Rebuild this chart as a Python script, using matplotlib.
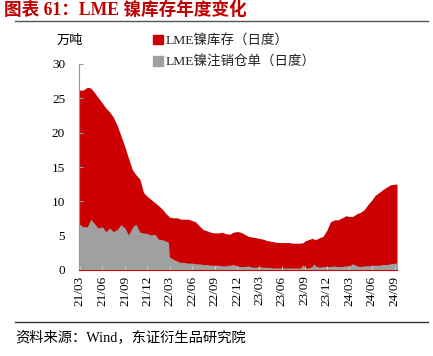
import matplotlib
matplotlib.use("Agg")
import matplotlib.pyplot as plt
import matplotlib.dates as mdates
from matplotlib.patches import Patch
import pandas as pd

plt.rcParams['font.family'] = ['Liberation Serif', 'Noto Sans CJK SC']

# semi-monthly readings (万吨) with a few extra dates for spikes / steps
dates = [
    "2021-02-26", "2021-03-15", "2021-04-01", "2021-04-15", "2021-05-01", "2021-05-15",
    "2021-06-01", "2021-06-15", "2021-07-01", "2021-07-15", "2021-08-01", "2021-08-15",
    "2021-09-01", "2021-09-15", "2021-10-01", "2021-10-15", "2021-11-01", "2021-11-15",
    "2021-12-01", "2021-12-15", "2022-01-01", "2022-01-15", "2022-02-01", "2022-02-15",
    "2022-02-24", "2022-03-01", "2022-03-15", "2022-04-01", "2022-04-15", "2022-05-01",
    "2022-05-15", "2022-06-01", "2022-06-15", "2022-07-01", "2022-07-15", "2022-08-01",
    "2022-08-15", "2022-09-01", "2022-09-15", "2022-10-01", "2022-10-15", "2022-11-01",
    "2022-11-15", "2022-12-01", "2022-12-15", "2023-01-01", "2023-01-15", "2023-02-01",
    "2023-02-15", "2023-03-01", "2023-03-15", "2023-04-01", "2023-04-15", "2023-05-01",
    "2023-05-15", "2023-06-01", "2023-06-15", "2023-07-01", "2023-07-15", "2023-08-01",
    "2023-08-15", "2023-08-28", "2023-09-01", "2023-09-15", "2023-10-01", "2023-10-10",
    "2023-10-15", "2023-11-01", "2023-11-15", "2023-12-01", "2023-12-15", "2024-01-01",
    "2024-01-15", "2024-02-01", "2024-02-15", "2024-03-01", "2024-03-15", "2024-04-01",
    "2024-04-15", "2024-05-01", "2024-05-15", "2024-06-01", "2024-06-15", "2024-07-01",
    "2024-07-15", "2024-08-01", "2024-08-15", "2024-09-01", "2024-09-11",
]

stock = [
    26.2, 26.2, 26.6, 26.5, 25.8, 25.1,
    24.3, 23.6, 23.0, 22.3, 21.0, 19.6,
    17.9, 16.3, 14.6, 13.9, 13.2, 11.3,
    10.7, 10.3, 9.8, 9.4, 8.8, 8.2,
    7.9, 7.7, 7.6, 7.6, 7.4, 7.4,
    7.4, 7.2, 7.0, 6.4, 5.9, 5.7,
    5.5, 5.4, 5.4, 5.5, 5.3, 5.2,
    5.5, 5.6, 5.5, 5.2, 4.9, 4.8,
    4.7, 4.6, 4.5, 4.3, 4.2, 4.1,
    4.0, 4.0, 4.0, 4.0, 3.9, 3.9,
    3.9, 4.0, 4.2, 4.4, 4.6, 4.5,
    4.4, 4.7, 4.9, 5.8, 7.0, 7.3,
    7.3, 7.6, 7.9, 7.8, 7.8, 8.2,
    8.4, 8.8, 9.5, 10.2, 10.9, 11.3,
    11.7, 12.1, 12.4, 12.5, 12.5,
]

cancelled = [
    6.7, 6.3, 6.3, 7.4, 6.7, 6.1,
    6.3, 5.6, 6.1, 5.6, 5.9, 6.6,
    6.1, 5.1, 6.2, 6.7, 5.5, 5.4,
    5.3, 5.1, 5.2, 4.5, 4.4, 4.2,
    4.1, 1.9, 1.6, 1.3, 1.1, 1.1,
    1.0, 1.0, 0.9, 0.9, 0.8, 0.8,
    0.7, 0.7, 0.7, 0.6, 0.6, 0.7,
    0.8, 0.6, 0.5, 0.5, 0.6, 0.4,
    0.4, 0.5, 0.4, 0.4, 0.35, 0.3,
    0.3, 0.3, 0.3, 0.3, 0.3, 0.3,
    0.3, 0.8, 0.3, 0.3, 0.5, 0.9,
    0.6, 0.4, 0.5, 0.5, 0.5, 0.6,
    0.5, 0.5, 0.6, 0.6, 0.9, 0.6,
    0.5, 0.6, 0.6, 0.7, 0.7, 0.7,
    0.8, 0.8, 0.9, 1.0, 1.0,
]

tick_dates = ["2021-03-01", "2021-06-01", "2021-09-01", "2021-12-01", "2022-03-01",
              "2022-06-01", "2022-09-01", "2022-12-01", "2023-03-01", "2023-06-01",
              "2023-09-01", "2023-12-01", "2024-03-01", "2024-06-01", "2024-09-01"]

RED = "#CC0000"
GRAY = "#A0A0A0"
x = pd.to_datetime(dates)

fig = plt.figure(figsize=(4.33, 3.56), dpi=100)
ax = fig.add_axes([79 / 433, 86 / 356, 318 / 433, 206 / 356])

ax.fill_between(x, stock, color=RED, lw=0)
ax.fill_between(x, cancelled, color=GRAY, lw=0)

ax.set_xlim(x[0], x[-1])
ax.set_ylim(0, 30)
ax.set_yticks([0, 5, 10, 15, 20, 25, 30])
ax.set_xticks(pd.to_datetime(tick_dates))
ax.xaxis.set_major_formatter(mdates.DateFormatter("%y/%m"))
ax.tick_params(axis='x', rotation=90, labelsize=9.5, direction='in', length=3,
               color="#c8c8c8", pad=4)
ax.tick_params(axis='y', labelsize=9.5, direction='in', length=3, color="#999999", pad=10)
for s in ["top", "right"]:
    ax.spines[s].set_visible(False)
ax.spines["left"].set_color("#999999")
ax.spines["bottom"].set_color(RED)

fig.text(70 / 433, 1 - 41 / 356, "万吨", ha="center", va="center", fontsize=9.5)

handles = [Patch(color=RED, label="LME镍库存（日度）"),
           Patch(color=GRAY, label="LME镍注销仓单（日度）")]
fig.legend(handles=handles, loc="upper left", bbox_to_anchor=(148 / 433, 1 - 29 / 356),
           frameon=False, fontsize=9.7, handlelength=0.7, handleheight=0.7,
           handletextpad=0.2, labelspacing=0.6, borderaxespad=0, labelcolor="#222222")

# header / footer
fig.text(4 / 433, 1 - 10 / 356, "图表 61：LME 镍库存年度变化", color="#C00000",
         fontsize=12.7, fontweight="bold", ha="left", va="center")
fig.add_artist(plt.Line2D([15 / 433, 428 / 433], [1 - 21 / 356] * 2, color="#555555", lw=1))
fig.add_artist(plt.Line2D([15 / 433, 428 / 433], [1 - 322 / 356] * 2, color="#333333", lw=1))
fig.text(15 / 433, 1 - 337 / 356, "资料来源：Wind，东证衍生品研究院", fontsize=10.3,
         ha="left", va="center")

fig.savefig("out.png", dpi=100)
